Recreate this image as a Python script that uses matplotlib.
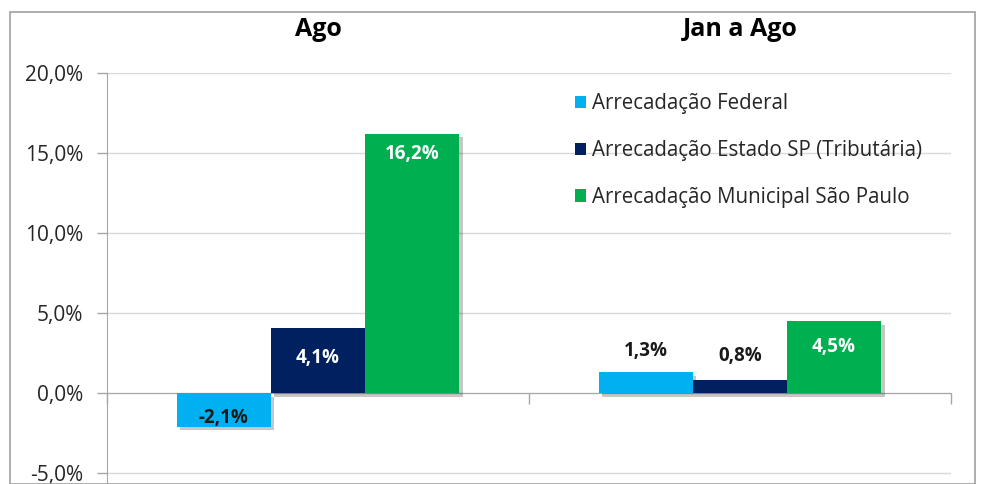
import matplotlib
matplotlib.use("Agg")
import matplotlib.pyplot as plt
import matplotlib.patheffects as pe
from matplotlib.patches import Rectangle
from matplotlib.ticker import FuncFormatter
import matplotlib.transforms as mtransforms

periods = ["Ago", "Jan a Ago"]
series_names = ["Arrecadação Federal",
                "Arrecadação Estado SP (Tributária)",
                "Arrecadação Municipal São Paulo"]
federal = [-2.1, 1.3]
estado = [4.1, 0.8]
municipal = [16.2, 4.5]
series_values = [federal, estado, municipal]
colors = ["#00B0F0", "#002060", "#00B050"]
yticks = [-5, 0, 5, 10, 15, 20]

# label offsets (pixels from bar end) and colours, per series/period
label_offsets = [[9, 21], [-30, 24], [-20, -26]]
label_colors = [["#1a1a1a", "#1a1a1a"], ["white", "#1a1a1a"], ["white", "white"]]

plt.rcParams['font.family'] = ['Open Sans', 'DejaVu Sans']

fig = plt.figure(figsize=(9.81, 4.84), dpi=100)
ax = fig.add_axes([107/981, 0.0, (951-107)/981, 1 - 73/484])

bw = 0.223
shadow = [pe.SimplePatchShadow(offset=(2.5, -2.5), shadow_rgbFace="#000000", alpha=0.22), pe.Normal()]
for i, (name, vals, col) in enumerate(zip(series_names, series_values, colors)):
    xs = [p + (i - 1) * bw for p in range(len(periods))]
    bars = ax.bar(xs, vals, width=bw, color=col, label=name, zorder=3)
    for b in bars:
        b.set_path_effects(shadow)
    for j, (x, v) in enumerate(zip(xs, vals)):
        off = label_offsets[i][j]
        ax.annotate(f"{v:.1f}%".replace(".", ","), xy=(x, v), xytext=(0, off * 0.72),
                    textcoords="offset points", ha="center", va="center",
                    fontsize=13.5, fontweight="bold", color=label_colors[i][j], zorder=5)

ax.set_xlim(-0.5, 1.5)
ax.set_ylim(-5.67, 20)
ax.set_yticks(yticks)
ax.yaxis.set_major_formatter(FuncFormatter(lambda v, p: f"{v:.1f}%".replace(".", ",")))
ax.tick_params(axis='y', labelsize=15, labelcolor="#262626", color="#a6a6a6", length=7, width=1, pad=10)
ax.grid(axis='y', color="#d9d9d9", linewidth=1, zorder=0)
ax.set_axisbelow(True)

ax.set_xticks([-0.5, 0.5, 1.5])
ax.set_xticklabels([])
ax.tick_params(axis='x', direction='out', length=8, color="#a6a6a6", width=1)
ax.spines['bottom'].set_position(('data', 0))
ax.spines['bottom'].set_color("#a6a6a6")
ax.spines['left'].set_color("#a6a6a6")
ax.spines['top'].set_visible(False)
ax.spines['right'].set_visible(False)

trans = mtransforms.blended_transform_factory(ax.transData, fig.transFigure)
for k, p in enumerate(periods):
    ax.text(k, 1 - 30/484, p, transform=trans, ha="center", va="center",
            fontsize=18, fontweight="bold", color="black")

leg = ax.legend(loc="upper left", bbox_to_anchor=(556/981, 1 - 75/484), bbox_transform=fig.transFigure,
                frameon=False, fontsize=14.8, handlelength=0.55, handleheight=0.55,
                handletextpad=0.3, labelspacing=1.25, labelcolor="#262626")
for h in leg.legend_handles:
    h.set_path_effects([])

fig.patches.append(Rectangle((10/981, 0), 965/981, 1 - 12/484, transform=fig.transFigure,
                             fill=False, edgecolor="#a0a0a0", linewidth=1.2))

fig.savefig("out.png", dpi=100)
